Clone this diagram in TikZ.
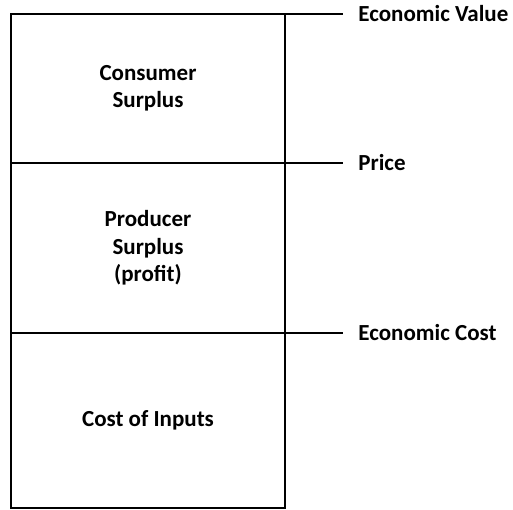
\documentclass[tikz,border=0pt]{standalone}
\usepackage{fontspec}
\setmainfont{Carlito}
\usetikzlibrary{chains,positioning}

\begin{document}
\begin{tikzpicture}[x=1pt, y=1pt, line width=2.8pt,
          part/.style={rectangle, draw, outer sep=0pt, minimum width=274pt,
            align=center, font=\fontsize{23}{27.5}\selectfont\bfseries},
          tag/.style={anchor=west, inner sep=0pt,
            font=\fontsize{23}{27.5}\selectfont\bfseries},
          node distance=0pt, start chain=going below]

          \useasboundingbox (0,0) rectangle (513,-510);
          \node[part,on chain,minimum height=149pt] (cs) at (148,-88.5) {Consumer\\Surplus};
          \node[part,on chain,minimum height=170pt] (ps) {Producer\\Surplus\\(profit)};
          \node[part,on chain,minimum height=175pt] (ci) {Cost of Inputs};
          \node[tag] (ev) at (357,-14) {Economic Value};
          \node[tag] (pr) at (357,-163) {Price};
          \node[tag] (ec) at (357,-333) {Economic Cost};
          \draw[shorten >=14pt] (cs.north east) -- (ev.west);
          \draw[shorten >=14pt] (ps.north east) -- (pr.west);
          \draw[shorten >=14pt] (ci.north east) -- (ec.west);
        \end{tikzpicture}
\end{document}
